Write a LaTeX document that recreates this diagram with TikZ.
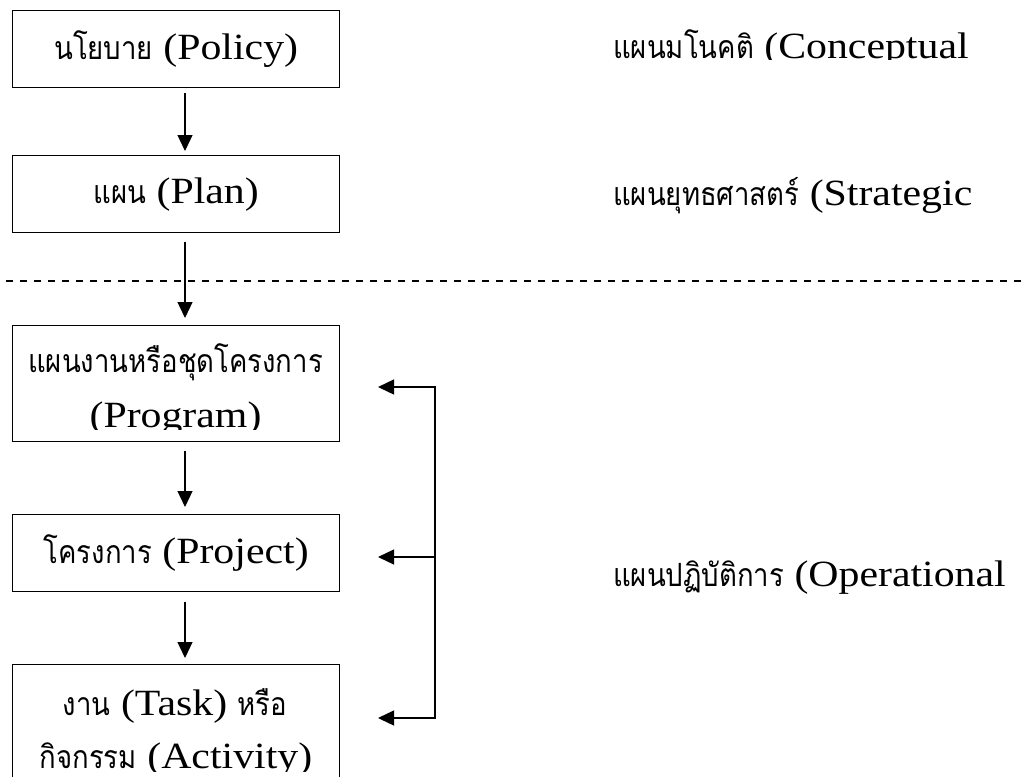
\documentclass[tikz,border=0pt]{standalone}
\usepackage{fontspec}
\setmainfont[FakeStretch=1.13]{Liberation Serif}
\newfontfamily\thaifont[Script=Thai,FakeStretch=0.86]{Loma}
\usetikzlibrary{positioning,arrows.meta}
\newcommand{\tht}[1]{{\thaifont\fontsize{32}{36}\selectfont #1}}
\tikzset{
	planbox/.style={draw,line width=1.3pt,minimum width=327pt,inner sep=0pt,anchor=north west,font=\fontsize{37}{42}\selectfont},
	lbl/.style={inner sep=0pt,font=\fontsize{37}{42}\selectfont},
	arr/.style={line width=1.2pt,-{Triangle[length=16pt,width=15pt]}},
	sep/.style={line width=2pt,dash pattern=on 7pt off 7pt}
}

\begin{document}
\begin{tikzpicture}[x=1pt,y=-1pt]
	\useasboundingbox (0,0) rectangle (1021,777);
	% left column
	\node[planbox,minimum height=77pt] (pol) at (12,10) {\tht{นโยบาย} (Policy)};
	\node[planbox,minimum height=77pt] (plan) at (12,155) {\tht{แผน} (Plan)};
	\node[planbox,minimum height=116pt] (prog) at (12,325) {};
	\node[planbox,minimum height=77pt] (proj) at (12,514) {\tht{โครงการ} (Project)};
	\node[planbox,minimum height=140pt] (task) at (12,664) {};
	\begin{scope}
		\clip (prog.north west) rectangle ([yshift=13pt]prog.south east);
		\node[lbl,anchor=base] (prog1) at (175.5,372) {\tht{แผนงานหรือชุดโครงการ}};
		\node[lbl,anchor=base] (prog2) at (175.5,427) {(Program)};
	\end{scope}
	\begin{scope}
		\clip (task.north west) rectangle (339,771);
		\node[lbl,anchor=base] (task1) at (175,715) {\tht{งาน} (Task) \tht{หรือ}};
		\node[lbl,anchor=base] (task2) at (176,768) {\tht{กิจกรรม} (Activity)};
	\end{scope}
	% right column
	\begin{scope}
		\clip (600,0) rectangle (1021,59);
		\node[lbl,anchor=base west] (con) at (613,58) {\tht{แผนมโนคติ} (Conceptual};
	\end{scope}
	\node[lbl,anchor=base west] (str) at (613,205) {\tht{แผนยุทธศาสตร์} (Strategic};
	\node[lbl,anchor=base west] (ope) at (613,586) {\tht{แผนปฏิบัติการ} (Operational};
	\draw[sep] (6,281) -- (1021,281);
	% arrows
	\coordinate (ax) at (185,0);
	\draw[arr,shorten <=5pt,shorten >=4pt] (pol.south -| ax) -- (plan.north -| ax);
	\draw[arr,shorten <=9pt,shorten >=7pt] (plan.south -| ax) -- (prog.north -| ax);
	\draw[arr,shorten <=9pt,shorten >=7pt] (prog.south -| ax) -- (proj.north -| ax);
	\draw[arr,shorten <=10pt,shorten >=6pt] (proj.south -| ax) -- (task.north -| ax);
	\coordinate (b1) at (435,387);
	\coordinate (b2) at (435,557);
	\coordinate (b3) at (435,718);
	\coordinate (t1) at (378,387);
	\coordinate (t2) at (378,557);
	\coordinate (t3) at (378,718);
	\draw[line width=1.3pt,{Triangle[length=16pt,width=15pt]}-{Triangle[length=16pt,width=15pt]}] (t1) -- (b1) -- (b3) -- (t3);
	\draw[arr] (b2) -- (t2);
\end{tikzpicture}
\end{document}
